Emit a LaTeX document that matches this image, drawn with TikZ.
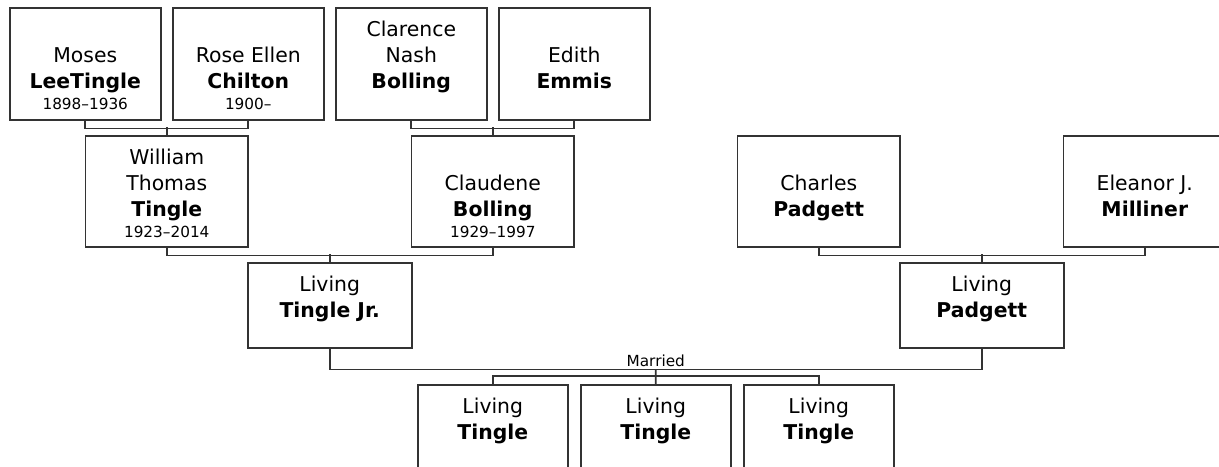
\documentclass[tikz,border=0pt]{standalone}
\usepackage{fontspec}
\setmainfont{DejaVu Sans}
\usetikzlibrary{positioning, calc}

\newdimen\pxunit \pxunit=0.56905pt
\newcommand{\cardtext}[3]{\parbox[c][#2\pxunit][t]{#1\pxunit}{\centering\fontsize{11.6}{14.8}\selectfont\rule{0pt}{16.5pt}#3}}
\newcommand{\yrs}[1]{\fontsize{8.7}{11.7}\selectfont #1}

\tikzset{
  card/.style={draw=black!80, line width=0.9pt, inner sep=0pt, anchor=north west},
  link/.style={draw=black!80, line width=0.9pt},
}

\begin{document}
\begin{tikzpicture}[x=0.02cm, y=-0.02cm]
        \useasboundingbox (0,0) rectangle (1219,466);
        \clip (0,0) rectangle (1219,466);
        % grandparents
        \node[card] (moses) at (9,7) {\cardtext{151}{112}{\mbox{}\\Moses\\\textbf{LeeTingle}\\\yrs{1898--1936}}};
        \node[card] (rose) at (172,7) {\cardtext{151}{112}{\mbox{}\\Rose Ellen\\\textbf{Chilton}\\\yrs{1900--}}};
        \node[card] (clarence) at (335,7) {\cardtext{151}{112}{Clarence\\Nash\\\textbf{Bolling}}};
        \node[card] (edith) at (498,7) {\cardtext{151}{112}{\mbox{}\\Edith\\\textbf{Emmis}}};
        % parents
        \node[card] (william) at (84.5,135) {\cardtext{163}{111}{William\\Thomas\\\textbf{Tingle}\\\yrs{1923--2014}}};
        \node[card] (claudene) at (410.5,135) {\cardtext{163}{111}{\mbox{}\\Claudene\\\textbf{Bolling}\\\yrs{1929--1997}}};
        \node[card] (charles) at (736.5,135) {\cardtext{163}{111}{\mbox{}\\Charles\\\textbf{Padgett}}};
        \node[card] (eleanor) at (1062.5,135) {\cardtext{163}{111}{\mbox{}\\Eleanor J.\\\textbf{Milliner}}};
        % couple
        \node[card] (jr) at (247,262) {\cardtext{164}{85}{Living\\\textbf{Tingle Jr.}}};
        \node[card] (padgett) at (899,262) {\cardtext{164}{85}{Living\\\textbf{Padgett}}};
        % children
        \node[card] (kid1) at (417,384) {\cardtext{150}{120}{Living\\\textbf{Tingle}}};
        \node[card] (kid2) at (580,384) {\cardtext{150}{120}{Living\\\textbf{Tingle}}};
        \node[card] (kid3) at (743,384) {\cardtext{150}{120}{Living\\\textbf{Tingle}}};
        % links
        \draw[link] (moses.south) -- ++(0,8) -| (rose.south);
        \draw[link] (william.north) -- ++(0,-8);
        \draw[link] (clarence.south) -- ++(0,8) -| (edith.south);
        \draw[link] (claudene.north) -- ++(0,-8);
        \draw[link] (william.south) -- ++(0,8) -| (claudene.south);
        \draw[link] (jr.north) -- ++(0,-8);
        \draw[link] (charles.south) -- ++(0,8) -| (eleanor.south);
        \draw[link] (padgett.north) -- ++(0,-8);
        \coordinate (wed) at ($(jr.south)!0.5!(padgett.south)+(0,21)$);
        \draw[link] (jr.south) |- (wed) -| (padgett.south);
        \node[above, inner sep=1.7pt, font=\fontsize{8.7}{10}\selectfont] (married) at (wed) {Married};
        \draw[link] (wed) -- (kid2.north);
        \draw[link] (kid1.north) -- ++(0,-8) -| (kid3.north);
    \end{tikzpicture}
\end{document}
